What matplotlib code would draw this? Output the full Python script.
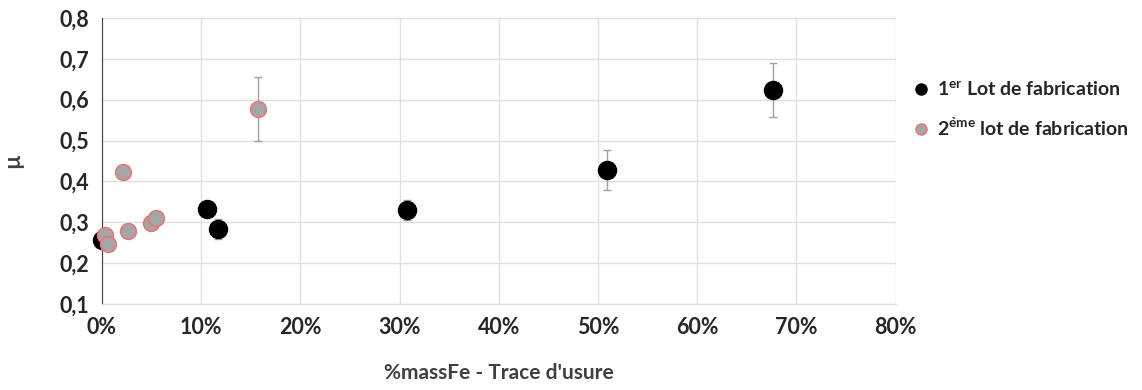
import matplotlib
matplotlib.use("Agg")
import matplotlib.pyplot as plt
from matplotlib.ticker import FuncFormatter
from matplotlib.lines import Line2D

plt.rcParams['font.family'] = ['Lato', 'DejaVu Sans']
plt.rcParams['mathtext.fontset'] = 'custom'
plt.rcParams['mathtext.bf'] = 'Lato:bold'
plt.rcParams['mathtext.rm'] = 'Lato:bold'

# 1er lot
x1 = [0.0, 10.6, 11.7, 30.7, 50.9, 67.6]
y1 = [0.257, 0.333, 0.284, 0.330, 0.428, 0.624]
e1 = [0.010, 0.015, 0.025, 0.025, 0.049, 0.066]

# 2eme lot
x2 = [0.3, 0.65, 2.1, 2.6, 4.95, 5.4, 15.7]
y2 = [0.269, 0.246, 0.424, 0.279, 0.299, 0.310, 0.577]
e2 = [0.008, 0.008, 0.015, 0.008, 0.008, 0.010, 0.078]

fig = plt.figure(figsize=(11.42, 3.9), dpi=100)
ax = fig.add_axes([0.0893, 0.2205, 0.695, 0.7335])

c1 = ax.errorbar(x1, y1, yerr=e1, fmt='o', color='black', ms=13,
                 ecolor='#a0a0a0', elinewidth=1, capsize=3, zorder=3)
c2 = ax.errorbar(x2, y2, yerr=e2, fmt='o', color='#a5a5a5', mec='#f07070', mew=1,
                 ms=11.5, ecolor='#a0a0a0', elinewidth=1, capsize=3, zorder=4)
for c in (c1, c2):
    c.lines[0].set_clip_on(False)

ax.set_xlim(0, 80)
ax.set_ylim(0.1, 0.8)
ax.set_xticks(range(0, 81, 10))
ax.set_yticks([0.1, 0.2, 0.3, 0.4, 0.5, 0.6, 0.7, 0.8])
ax.xaxis.set_major_formatter(FuncFormatter(lambda v, p: f"{int(v)}%"))
ax.yaxis.set_major_formatter(FuncFormatter(lambda v, p: f"{v:.1f}".replace('.', ',')))
ax.grid(True, color='#e0e0e0', lw=1)
ax.set_axisbelow(True)
for s in ['top', 'right']:
    ax.spines[s].set_visible(False)
ax.spines['bottom'].set_color('#d9d9d9')
ax.spines['left'].set_color('#404040')
ax.tick_params(length=0, labelsize=15.5, pad=9)
for lab in ax.get_xticklabels() + ax.get_yticklabels():
    lab.set_fontweight('bold')
    lab.set_color('#262626')

ax.set_xlabel("%massFe - Trace d'usure", fontsize=15, fontweight='bold',
              color='#404040', labelpad=18)
ax.set_ylabel("µ", fontsize=16, fontweight='bold', color='#404040', labelpad=26)

handles = [
    Line2D([], [], ls='none', marker='o', color='black', ms=8),
    Line2D([], [], ls='none', marker='o', color='#a5a5a5', mec='#f07070', mew=1, ms=8),
]
labels = [r'1$^{\mathrm{er}}$ Lot de fabrication',
          r'2$^{\mathrm{\`eme}}$ lot de fabrication']
leg = ax.legend(handles, labels, loc='center left', bbox_to_anchor=(1.0, 0.68),
                frameon=False, fontsize=14, handletextpad=0.2, handlelength=1.2,
                labelspacing=0.9, borderaxespad=0.3)
for t in leg.get_texts():
    t.set_fontweight('bold')
    t.set_color('#262626')

fig.savefig('out.png', dpi=100)
